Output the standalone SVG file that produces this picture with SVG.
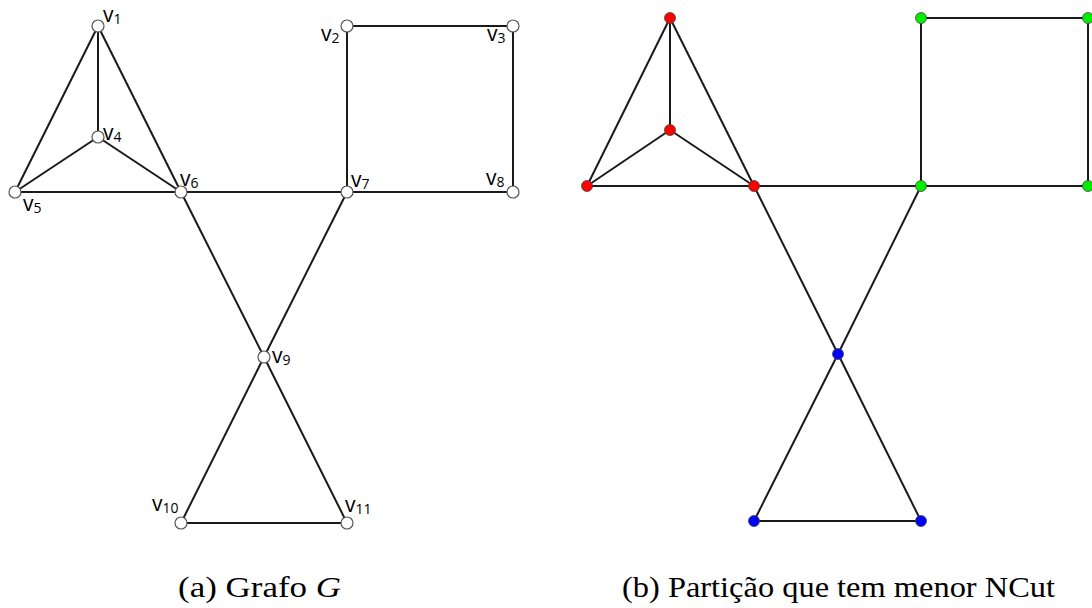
<svg xmlns="http://www.w3.org/2000/svg" width="1092" height="608" viewBox="0 0 1092 608">
<style>
.e{stroke:#1a1a1a;stroke-width:2;fill:none;stroke-linecap:round}
.w{fill:#fff;stroke:#555;stroke-width:1.2}
.r{fill:#ff0000;stroke:#444;stroke-width:0.8}
.g{fill:#00ee00;stroke:#444;stroke-width:0.8}
.b{fill:#0000ff;stroke:#444;stroke-width:0.8}
.lb{font-family:"Open Sans","Liberation Sans",sans-serif;font-size:21px;fill:#000}
.sb{font-size:14px}
.cap{font-family:"Liberation Serif",serif;font-size:30px;fill:#000}
</style>
<rect width="1092" height="608" fill="#fff"/>
<g id="connectors">
<g id="edges-a">
<line class="e" x1="98" y1="26" x2="98" y2="137"/>
<line class="e" x1="98" y1="26" x2="15" y2="192"/>
<line class="e" x1="98" y1="26" x2="181" y2="192"/>
<line class="e" x1="98" y1="137" x2="15" y2="192"/>
<line class="e" x1="98" y1="137" x2="181" y2="192"/>
<line class="e" x1="15" y1="192" x2="181" y2="192"/>
<line class="e" x1="181" y1="192" x2="347" y2="192"/>
<line class="e" x1="181" y1="192" x2="264" y2="357"/>
<line class="e" x1="347" y1="192" x2="264" y2="357"/>
<line class="e" x1="347" y1="26" x2="513" y2="26"/>
<line class="e" x1="347" y1="26" x2="347" y2="192"/>
<line class="e" x1="513" y1="26" x2="513" y2="192"/>
<line class="e" x1="347" y1="192" x2="513" y2="192"/>
<line class="e" x1="264" y1="357" x2="181" y2="523"/>
<line class="e" x1="264" y1="357" x2="347" y2="523"/>
<line class="e" x1="181" y1="523" x2="347" y2="523"/>
</g>
<g id="edges-b">
<line class="e" x1="670" y1="18" x2="670" y2="130"/>
<line class="e" x1="670" y1="18" x2="587" y2="186"/>
<line class="e" x1="670" y1="18" x2="754" y2="186"/>
<line class="e" x1="670" y1="130" x2="587" y2="186"/>
<line class="e" x1="670" y1="130" x2="754" y2="186"/>
<line class="e" x1="587" y1="186" x2="754" y2="186"/>
<line class="e" x1="754" y1="186" x2="921" y2="186"/>
<line class="e" x1="754" y1="186" x2="838" y2="354"/>
<line class="e" x1="921" y1="186" x2="838" y2="354"/>
<line class="e" x1="921" y1="18" x2="1088" y2="18"/>
<line class="e" x1="921" y1="18" x2="921" y2="186"/>
<line class="e" x1="1088" y1="18" x2="1088" y2="186"/>
<line class="e" x1="921" y1="186" x2="1088" y2="186"/>
<line class="e" x1="838" y1="354" x2="754" y2="521"/>
<line class="e" x1="838" y1="354" x2="921" y2="521"/>
<line class="e" x1="754" y1="521" x2="921" y2="521"/>
</g>
</g>
<g id="graph-a">
<g id="a-v1"><circle class="w" cx="98" cy="26" r="6"/><text class="lb" x="103" y="22">v<tspan class="sb" dy="2">1</tspan></text></g>
<g id="a-v2"><circle class="w" cx="347" cy="26" r="6"/><text class="lb" x="321" y="41">v<tspan class="sb" dy="2">2</tspan></text></g>
<g id="a-v3"><circle class="w" cx="513" cy="26" r="6"/><text class="lb" x="487" y="41">v<tspan class="sb" dy="2">3</tspan></text></g>
<g id="a-v4"><circle class="w" cx="98" cy="137" r="6"/><text class="lb" x="103" y="140">v<tspan class="sb" dy="2">4</tspan></text></g>
<g id="a-v5"><circle class="w" cx="15" cy="192" r="6"/><text class="lb" x="23" y="211">v<tspan class="sb" dy="2">5</tspan></text></g>
<g id="a-v6"><circle class="w" cx="181" cy="192" r="6"/><text class="lb" x="180" y="186">v<tspan class="sb" dy="2">6</tspan></text></g>
<g id="a-v7"><circle class="w" cx="347" cy="192" r="6"/><text class="lb" x="351" y="187">v<tspan class="sb" dy="2">7</tspan></text></g>
<g id="a-v8"><circle class="w" cx="513" cy="192" r="6"/><text class="lb" x="486" y="185">v<tspan class="sb" dy="2">8</tspan></text></g>
<g id="a-v9"><circle class="w" cx="264" cy="357" r="6"/><text class="lb" x="272" y="363">v<tspan class="sb" dy="2">9</tspan></text></g>
<g id="a-v10"><circle class="w" cx="181" cy="523" r="6"/><text class="lb" x="152" y="511">v<tspan class="sb" dy="2">10</tspan></text></g>
<g id="a-v11"><circle class="w" cx="347" cy="523" r="6"/><text class="lb" x="345" y="512">v<tspan class="sb" dy="2">11</tspan></text></g>
</g>
<g id="graph-b">
<g id="b-v1"><circle class="r" cx="670" cy="18" r="5.5"/></g>
<g id="b-v4"><circle class="r" cx="670" cy="130" r="5.5"/></g>
<g id="b-v5"><circle class="r" cx="587" cy="186" r="5.5"/></g>
<g id="b-v6"><circle class="r" cx="754" cy="186" r="5.5"/></g>
<g id="b-v2"><circle class="g" cx="921" cy="18" r="5.5"/></g>
<g id="b-v3"><circle class="g" cx="1088" cy="18" r="5.5"/></g>
<g id="b-v7"><circle class="g" cx="921" cy="186" r="5.5"/></g>
<g id="b-v8"><circle class="g" cx="1088" cy="186" r="5.5"/></g>
<g id="b-v9"><circle class="b" cx="838" cy="354" r="5.5"/></g>
<g id="b-v10"><circle class="b" cx="754" cy="521" r="5.5"/></g>
<g id="b-v11"><circle class="b" cx="921" cy="521" r="5.5"/></g>
</g>
<g id="captions">
<text class="cap" x="178" y="597" textLength="163" lengthAdjust="spacingAndGlyphs">(a) Grafo <tspan font-style="italic">G</tspan></text>
<text class="cap" x="622" y="597" textLength="433" lengthAdjust="spacingAndGlyphs">(b) Partição que tem menor NCut</text>
</g>
</svg>
